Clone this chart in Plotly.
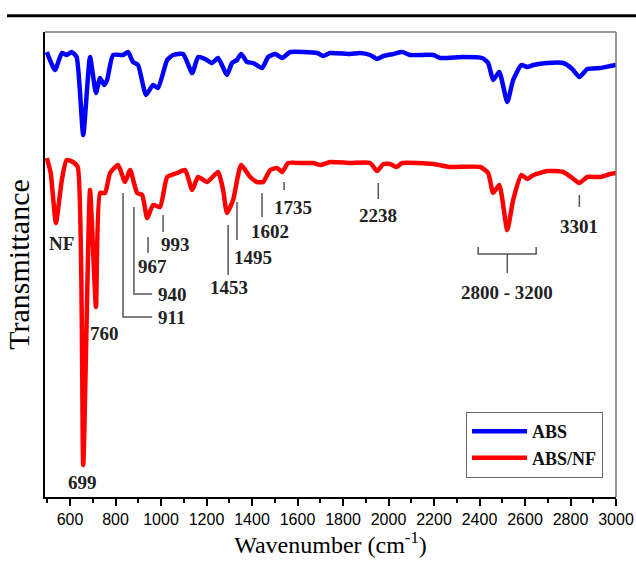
import plotly.graph_objects as go

# ---- data (wavenumber, transmittance in arbitrary units) ----
wn_abs = [498, 534, 564, 585, 607, 629, 658, 688, 714, 732, 750, 763, 789, 833, 855, 877, 899, 934, 965, 987,
          1027, 1053, 1097, 1137, 1163, 1194, 1225, 1251, 1290, 1312, 1334, 1352, 1378, 1405, 1444, 1471, 1502,
          1532, 1568, 1686, 1713, 1743, 1831, 1875, 1919, 1950, 1977, 2021, 2060, 2095, 2197, 2227, 2328, 2412,
          2438, 2460, 2487, 2522, 2548, 2584, 2610, 2637, 2698, 2768, 2808, 2839, 2874, 2931, 2975, 3000]
t_abs = [445, 427, 444, 442, 445, 440, 362, 440, 404, 419, 412, 417, 442, 442, 445, 435, 432, 402, 412, 409,
         437, 442, 443, 424, 440, 438, 434, 439, 422, 434, 437, 443, 435, 434, 429, 440, 443,
         439, 445, 444, 441, 444, 443, 444, 442, 438, 441, 443, 445, 442, 442, 439, 440, 439,
         434, 417, 425, 395, 417, 432, 430, 432, 434, 434, 428, 420, 428, 429, 431, 432]

wn_absnf = [498, 515, 538, 564, 585, 613, 634, 658, 688, 714, 732, 754, 776, 811, 842, 864, 895, 917, 939, 965,
            996, 1027, 1071, 1106, 1137, 1163, 1203, 1251, 1273, 1290, 1317, 1352, 1392, 1422, 1449, 1480, 1510,
            1532, 1559, 1612, 1669, 1700, 1743, 1831, 1919, 1950, 1977, 2007, 2034, 2060, 2197, 2271, 2403, 2438,
            2460, 2487, 2522, 2548, 2584, 2610, 2637, 2698, 2768, 2808, 2839, 2874, 2931, 2975, 3000]
t_absnf = [339, 324, 274, 317, 337, 335, 330, 32, 307, 190, 304, 304, 324, 332, 315, 327, 304, 302, 279, 292,
           290, 320, 324, 327, 307, 320, 315, 325, 307, 284, 297, 332, 320, 315, 315, 327, 329,
           325, 334, 334, 334, 332, 335, 334, 334, 326, 333, 333, 330, 334, 333, 330, 330, 324,
           304, 312, 267, 297, 322, 318, 322, 326, 325, 319, 314, 320, 320, 323, 324]

tick_vals = [600, 800, 1000, 1200, 1400, 1600, 1800, 2000, 2200, 2400, 2600, 2800, 3000]

# peak labels: text, x, y, anchor
peak_labels = [
    ("NF", 499, 254, "left"),
    ("699", 657, 15, "center"),
    ("760", 750, 164, "center"),
    ("911", 978, 180, "left"),
    ("940", 978, 203, "left"),
    ("967", 961, 231, "center"),
    ("993", 1062, 253, "center"),
    ("1453", 1299, 210, "center"),
    ("1495", 1405, 240, "center"),
    ("1602", 1480, 266, "center"),
    ("1735", 1581, 290, "center"),
    ("2238", 1955, 282, "center"),
    ("3301", 2839, 271, "center"),
    ("2800 - 3200", 2522, 205, "center"),
]
leaders = [
    [(833, 304), (833, 180), (961, 180)],
    [(881, 290), (881, 203), (961, 203)],
    [(943, 260), (943, 244)],
    [(1009, 282), (1009, 265)],
    [(1295, 272), (1295, 222)],
    [(1334, 295), (1334, 257)],
    [(1444, 304), (1444, 280)],
    [(1541, 315), (1541, 307)],
    [(1955, 314), (1955, 298)],
    [(2839, 302), (2839, 290)],
    [(2394, 250), (2394, 243), (2649, 243), (2649, 250)],
    [(2522, 243), (2522, 224)],
]

fig = go.Figure()
fig.add_trace(go.Scatter(x=wn_abs, y=t_abs, mode="lines", name="ABS",
                         line=dict(color="#0000FF", width=4.5, shape="spline", smoothing=0.5)))
fig.add_trace(go.Scatter(x=wn_absnf, y=t_absnf, mode="lines", name="ABS/NF",
                         line=dict(color="#FF0000", width=4.5, shape="spline", smoothing=0.5)))

serif = "Liberation Serif, Times New Roman, serif"
annotations = []
for txt, x, y, anc in peak_labels:
    annotations.append(dict(x=x, y=y, xref="x", yref="y", text=txt, showarrow=False,
                            xanchor=anc, yanchor="middle",
                            font=dict(family=serif, size=19, color="#222222", weight="bold")))

shapes = []
for pts in leaders:
    path = "M " + " L ".join(f"{px},{py}" for px, py in pts)
    shapes.append(dict(type="path", path=path, xref="x", yref="y",
                       line=dict(color="#555555", width=1.5)))
# grey frame top and right
shapes.append(dict(type="line", xref="paper", yref="paper", x0=0, y0=1, x1=1, y1=1,
                   line=dict(color="#777777", width=1.5)))
shapes.append(dict(type="line", xref="paper", yref="paper", x0=1, y0=0, x1=1, y1=1,
                   line=dict(color="#777777", width=1.5)))
# black rule above the chart
shapes.append(dict(type="line", xref="paper", yref="paper", x0=-0.0665, y0=1.035, x1=1.04, y1=1.035,
                   line=dict(color="#000000", width=3)))

fig.update_layout(
    width=636, height=563,
    margin=dict(l=45, r=20, t=32, b=66),
    paper_bgcolor="white", plot_bgcolor="white",
    showlegend=True,
    legend=dict(x=0.737, y=0.183, xanchor="left", yanchor="top",
                bordercolor="#666666", borderwidth=1.2, bgcolor="white",
                font=dict(family=serif, size=18, color="#111111", weight="bold"),
                tracegroupgap=0, itemwidth=55),
    annotations=annotations,
    shapes=shapes,
)
fig.update_xaxes(range=[490, 3000], tickvals=tick_vals, ticks="outside", ticklen=7, tickwidth=2,
                 tickcolor="black", showline=True, linecolor="black", linewidth=2, showgrid=False,
                 zeroline=False, automargin=False,
                 tickfont=dict(family="Liberation Sans, Arial, sans-serif", size=16, color="black"),
                 minor=dict(dtick=100, ticks="outside", ticklen=4, tickwidth=2, tickcolor="black"),
                 title=dict(text="Wavenumber (cm<sup>-1</sup>)", standoff=6,
                            font=dict(family=serif, size=24, color="black")))
fig.update_yaxes(range=[0, 465], showticklabels=False, ticks="", showline=True, linecolor="black",
                 linewidth=2, showgrid=False, zeroline=False, automargin=False,
                 title=dict(text="Transmittance", standoff=5,
                            font=dict(family=serif, size=30, color="black")))

# remove the browser's default 8px body margin so the figure fills the window exactly
fig.write_html("out.html",
               config={"displayModeBar": False},
               post_script="document.body.style.margin='0';document.body.style.overflow='hidden';")
